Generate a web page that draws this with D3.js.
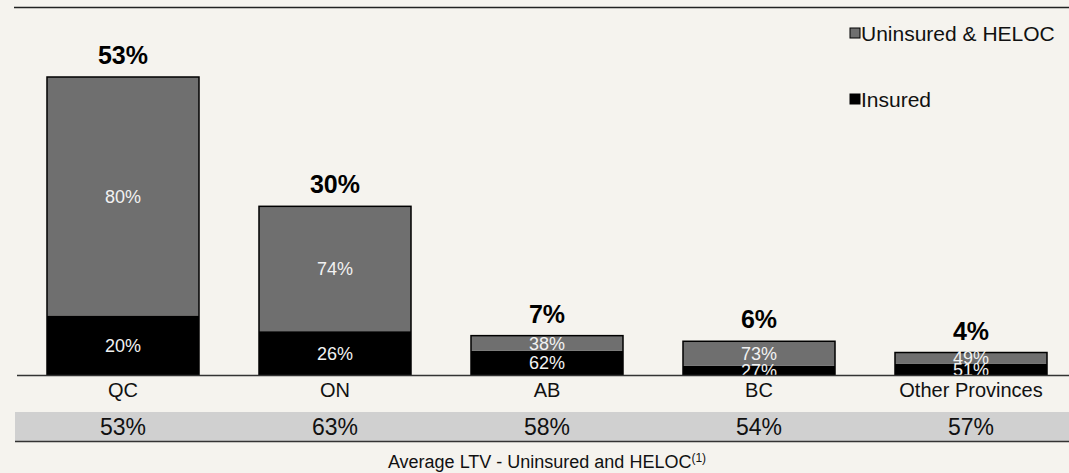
<!DOCTYPE html>
<html>
<head>
<meta charset="utf-8">
<script src="https://cdn.jsdelivr.net/npm/d3@7"></script>
<style>
  html, body { margin: 0; padding: 0; background: #f5f3ee; }
  svg { display: block; font-family: Arial, "Liberation Sans", sans-serif; }
</style>
</head>
<body>
<svg id="chart" width="1069" height="473"></svg>
<script>
// data
let provinces = ['QC', 'ON', 'AB', 'BC', 'Other Provinces']
let share = [53, 30, 7, 6, 4]          // share of portfolio (bar total)
let uninsured = [80, 74, 38, 73, 49]   // % uninsured & HELOC within bar
let insured = [20, 26, 62, 27, 51]     // % insured within bar
let avgLtv = [53, 63, 58, 54, 57]      // average LTV - uninsured and HELOC

let svg = d3.select('#chart')
const W = 1069, baseY = 375

let x = d3.scaleBand()
    .domain(provinces)
    .range([17, 1077])
    .paddingInner(0.283)
    .paddingOuter(0.1415)

let y = d3.scaleLinear()
    .domain([0, 53])
    .range([baseY, 77])

let rows = provinces.map((p, i) => ({
    name: p,
    insured: share[i] * insured[i] / 100,
    uninsured: share[i] * uninsured[i] / 100,
    pIns: insured[i],
    pUn: uninsured[i],
    total: share[i]
}))

let stacked = d3.stack().keys(['insured', 'uninsured'])(rows)
let colors = { insured: '#000000', uninsured: '#6f6f6f' }

// top rule
svg.append('line')
    .attr('x1', 14).attr('x2', W)
    .attr('y1', 7.5).attr('y2', 7.5)
    .attr('stroke', '#222').attr('stroke-width', 1.5)

svg.append('clipPath').attr('id', 'plot')
    .append('rect').attr('x', 0).attr('y', 0).attr('width', W).attr('height', baseY)

// segments
stacked.forEach(layer => {
    svg.append('g')
        .selectAll('rect')
        .data(layer)
        .enter()
        .append('rect')
        .attr('x', d => x(d.data.name))
        .attr('width', x.bandwidth())
        .attr('y', d => y(d[1]))
        .attr('height', d => y(d[0]) - y(d[1]))
        .attr('fill', colors[layer.key])
})

// bar outline
svg.append('g')
    .selectAll('rect')
    .data(rows)
    .enter()
    .append('rect')
    .attr('x', d => x(d.name))
    .attr('width', x.bandwidth())
    .attr('y', d => y(d.total))
    .attr('height', d => baseY - y(d.total))
    .attr('fill', 'none')
    .attr('stroke', '#000')
    .attr('stroke-width', 1.5)

// segment labels (clipped at the baseline like the slide)
let inner = svg.append('g').attr('clip-path', 'url(#plot)')
stacked.forEach(layer => {
    inner.selectAll('text.' + layer.key)
        .data(layer)
        .enter()
        .append('text')
        .attr('class', layer.key)
        .attr('x', d => x(d.data.name) + x.bandwidth() / 2)
        .attr('y', d => (y(d[0]) + y(d[1])) / 2)
        .attr('dy', '0.36em')
        .attr('text-anchor', 'middle')
        .attr('font-size', 18)
        .attr('fill', '#f2f2f2')
        .text(d => (layer.key === 'insured' ? d.data.pIns : d.data.pUn) + '%')
})

// totals above bars
svg.append('g')
    .selectAll('text')
    .data(rows)
    .enter()
    .append('text')
    .attr('x', d => x(d.name) + x.bandwidth() / 2)
    .attr('y', d => y(d.total) - 13)
    .attr('text-anchor', 'middle')
    .attr('font-size', 25)
    .attr('font-weight', 'bold')
    .attr('fill', '#000')
    .text(d => d.total + '%')

// baseline
svg.append('line')
    .attr('x1', 17).attr('x2', W)
    .attr('y1', baseY + 0.5).attr('y2', baseY + 0.5)
    .attr('stroke', '#333').attr('stroke-width', 1.5)

// category axis
let axis = svg.append('g')
    .attr('transform', `translate(0, ${baseY})`)
    .call(d3.axisBottom(x).tickSize(0).tickPadding(8))
axis.select('.domain').remove()
axis.selectAll('text')
    .attr('font-size', 20)
    .attr('font-family', 'Arial, "Liberation Sans", sans-serif')
    .attr('fill', '#111')

// LTV band
svg.append('rect')
    .attr('x', 15).attr('y', 412)
    .attr('width', W - 15).attr('height', 29)
    .attr('fill', '#d0d0d0')
svg.append('line')
    .attr('x1', 15).attr('x2', W)
    .attr('y1', 441.5).attr('y2', 441.5)
    .attr('stroke', '#333').attr('stroke-width', 1.5)

svg.append('g')
    .selectAll('text')
    .data(avgLtv)
    .enter()
    .append('text')
    .attr('x', (d, i) => x(provinces[i]) + x.bandwidth() / 2)
    .attr('y', 435)
    .attr('text-anchor', 'middle')
    .attr('font-size', 23)
    .attr('fill', '#111')
    .text(d => d + '%')

let foot = svg.append('text')
    .attr('x', x('AB') + x.bandwidth() / 2)
    .attr('y', 468)
    .attr('text-anchor', 'middle')
    .attr('font-size', 18)
    .attr('fill', '#111')
foot.append('tspan').text('Average LTV - Uninsured and HELOC')
foot.append('tspan').attr('font-size', 12).attr('dy', -6).text('(1)')

// legend
let legendItems = [
    { label: 'Uninsured & HELOC', color: colors.uninsured, y: 33 },
    { label: 'Insured', color: colors.insured, y: 99 }
]
let legend = svg.append('g')
    .selectAll('g')
    .data(legendItems)
    .enter()
    .append('g')
    .attr('transform', d => `translate(850, ${d.y})`)
legend.append('rect')
    .attr('x', 0).attr('y', -5)
    .attr('width', 10).attr('height', 10)
    .attr('fill', d => d.color)
    .attr('stroke', '#000').attr('stroke-width', 1)
legend.append('text')
    .attr('x', 11)
    .attr('dy', '0.36em')
    .attr('font-size', 21)
    .attr('fill', '#111')
    .text(d => d.label)
</script>
</body>
</html>
